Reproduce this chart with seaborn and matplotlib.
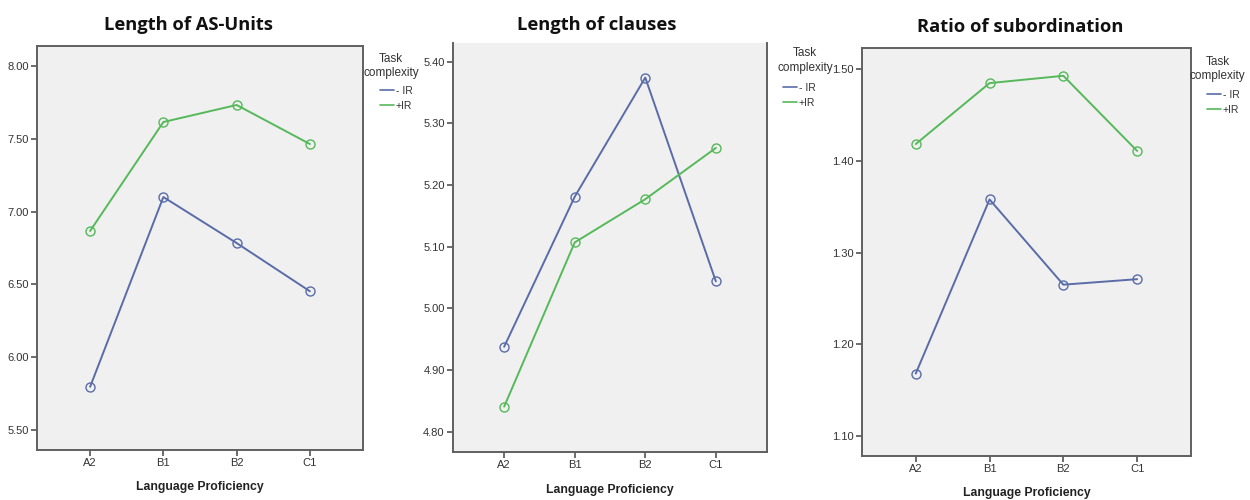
import matplotlib
matplotlib.use("Agg")
import matplotlib.pyplot as plt
import seaborn as sns
import pandas as pd

# Proficiency levels on the x axis
levels = ["A2", "B1", "B2", "C1"]
groups = ["- IR", "+IR"]

# Estimated marginal means per measure
as_units_minus = [5.797, 7.100, 6.784, 6.453]
as_units_plus = [6.867, 7.615, 7.732, 7.464]

clauses_minus = [4.938, 5.181, 5.374, 5.044]
clauses_plus = [4.841, 5.107, 5.177, 5.260]

subord_minus = [1.168, 1.358, 1.265, 1.271]
subord_plus = [1.4185, 1.485, 1.493, 1.411]

titles = ["Length of AS-Units", "Length of clauses", "Ratio of subordination"]
yticks_list = [
    [5.5, 6.0, 6.5, 7.0, 7.5, 8.0],
    [4.8, 4.9, 5.0, 5.1, 5.2, 5.3, 5.4],
    [1.1, 1.2, 1.3, 1.4, 1.5],
]
ylims = [(5.363, 8.137), (4.768, 5.430), (1.078, 1.523)]

series = [
    (as_units_minus, as_units_plus),
    (clauses_minus, clauses_plus),
    (subord_minus, subord_plus),
]

sns.set_style("white")
narrow = ["Liberation Sans Narrow", "Liberation Sans", "DejaVu Sans"]
plt.rcParams["font.family"] = narrow

palette = {"- IR": "#5a6ca8", "+IR": "#55b95a"}
spine_col = "#606060"

fig = plt.figure(figsize=(12.5, 5), dpi=100)

# axes rectangles (figure fractions)
rects = [
    (0.0296, 0.100, 0.2608, 0.808),
    (0.3624, 0.0966, 0.2512, 0.8174),
    (0.6898, 0.088, 0.2627, 0.8154),
]
title_pos = [(0.151, 0.950), (0.4774, 0.950), (0.816, 0.946)]
xlabel_pos = [(0.160, 0.026), (0.488, 0.020), (0.8216, 0.014)]
legend_title_pos = [(0.313, 0.868), (0.644, 0.879), (0.974, 0.862)]
legend_anchor = [(0.304, 0.828), (0.6264, 0.834), (0.9656, 0.820)]

for i in range(3):
    minus, plus = series[i]
    df = pd.DataFrame({
        "Language Proficiency": levels * 2,
        "value": list(minus) + list(plus),
        "Task complexity": [groups[0]] * 4 + [groups[1]] * 4,
    })
    ax = fig.add_axes(rects[i])
    ax.set_facecolor("#f0f0f0")
    sns.lineplot(
        data=df, x="Language Proficiency", y="value", hue="Task complexity",
        palette=palette, marker="o", markersize=6.5, markerfacecolor="none",
        markeredgewidth=1.0, linewidth=1.4, ax=ax, sort=False,
    )
    for ln in ax.lines:
        ln.set_markeredgecolor(ln.get_color())

    ax.set_xlim(-0.725, 3.725)
    ax.set_ylim(*ylims[i])
    ax.set_yticks(yticks_list[i])
    ax.set_yticklabels([f"{v:.2f}" for v in yticks_list[i]])
    ax.set_xticks(range(4))
    ax.set_xticklabels(levels)
    ax.tick_params(axis="both", direction="out", length=4, width=1.3,
                   color=spine_col, labelsize=8, labelcolor="#333333", pad=2,
                   bottom=True, left=True)
    ax.set_xlabel("")
    ax.set_ylabel("")
    for side, sp in ax.spines.items():
        sp.set_color(spine_col)
        sp.set_linewidth(1.4)
    if i == 1:
        ax.spines["top"].set_visible(False)

    leg = ax.legend(
        loc="upper left",
        bbox_to_anchor=legend_anchor[i], bbox_transform=fig.transFigure,
        frameon=False, fontsize=7.5,
        handlelength=1.3, handletextpad=0.2, labelspacing=0.45,
        borderpad=0, borderaxespad=0,
    )
    for t in leg.get_texts():
        t.set_color("#333333")
    for h in leg.legend_handles:
        h.set_marker("")
        h.set_linewidth(1.2)

    fig.text(legend_title_pos[i][0], legend_title_pos[i][1],
             "Task\ncomplexity", ha="center", va="center", fontsize=8.5,
             linespacing=1.25, multialignment="center", color="#333333",
             family=narrow)

    fig.text(title_pos[i][0], title_pos[i][1], titles[i], ha="center",
             va="center", fontsize=13.2, fontweight="bold",
             family=["Open Sans", "DejaVu Sans"], color="#111111")
    fig.text(xlabel_pos[i][0], xlabel_pos[i][1], "Language Proficiency",
             ha="center", va="center", fontsize=8.8, fontweight="bold",
             family=narrow, color="#222222")

fig.savefig("out.png", dpi=100, facecolor="white")
